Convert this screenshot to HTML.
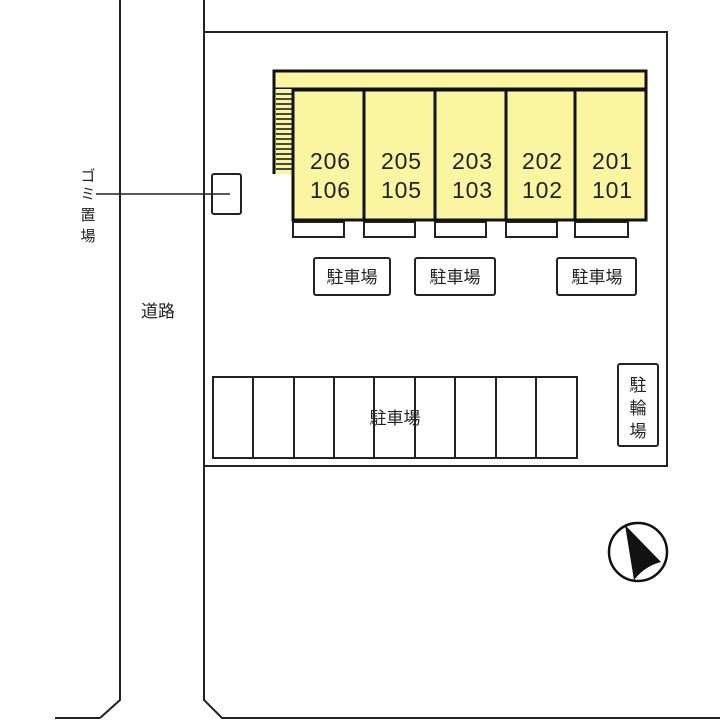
<!DOCTYPE html>
<html><head><meta charset="utf-8"><style>
html,body{margin:0;padding:0;background:#fff;}
svg text{font-family:"Liberation Sans","Noto Sans CJK JP",sans-serif;fill:#222;}
</style></head><body>
<svg width="720" height="720" viewBox="0 0 720 720" xmlns="http://www.w3.org/2000/svg">
<g fill="none" stroke="#222" stroke-width="2">
<polyline points="120,0 120,700 100,718"/>
<line x1="55" y1="718" x2="100" y2="718"/>
<polyline points="204,0 204,700 222,718 720,718"/>
<polyline points="204,32 667,32 667,466 204,466"/>
<rect x="213" y="377" width="364" height="81"/>
<path d="M253,377V458M294,377V458M334,377V458M374,377V458M415,377V458M455,377V458M496,377V458M536,377V458"/>
<rect x="618" y="364" width="40" height="82" rx="2"/>
<rect x="212" y="174" width="29" height="40" rx="2"/>
<line x1="96" y1="194" x2="230" y2="194" stroke-width="1.5"/>
<rect x="293" y="222" width="51" height="15"/>
<rect x="364" y="222" width="51" height="15"/>
<rect x="435" y="222" width="51" height="15"/>
<rect x="506" y="222" width="51" height="15"/>
<rect x="575" y="222" width="53" height="15"/>
<rect x="314" y="258" width="76" height="37" rx="2"/>
<rect x="415" y="258" width="80" height="37" rx="2"/>
<rect x="557" y="258" width="79" height="37" rx="2"/>
</g>
<rect x="274" y="71" width="372" height="18" fill="#f9f5a0" stroke="#111" stroke-width="3"/>
<rect x="274" y="89" width="19" height="85" fill="#f9f5a0"/>
<g stroke="#111" stroke-width="1.5">
<path d="M276,94H293M276,99H293M276,104H293M276,109H293M276,114H293M276,119H293M276,124H293M276,129H293M276,134H293M276,139H293M276,144H293M276,149H293M276,154H293M276,159H293M276,164H293M276,169H293"/>
</g>
<line x1="274" y1="71" x2="274" y2="174" stroke="#111" stroke-width="3"/>
<rect x="293" y="90" width="353" height="130" fill="#f9f5a0" stroke="#111" stroke-width="3"/>
<path d="M364,90V220M435,90V220M506,90V220M575,90V220" stroke="#111" stroke-width="3"/>
<g font-size="23" text-anchor="middle">
<text x="330" y="169" textLength="40" lengthAdjust="spacing">206</text><text x="330" y="198" textLength="40" lengthAdjust="spacing">106</text>
<text x="401" y="169" textLength="40" lengthAdjust="spacing">205</text><text x="401" y="198" textLength="40" lengthAdjust="spacing">105</text>
<text x="472" y="169" textLength="40" lengthAdjust="spacing">203</text><text x="472" y="198" textLength="40" lengthAdjust="spacing">103</text>
<text x="542" y="169" textLength="40" lengthAdjust="spacing">202</text><text x="542" y="198" textLength="40" lengthAdjust="spacing">102</text>
<text x="612" y="169" textLength="40" lengthAdjust="spacing">201</text><text x="612" y="198" textLength="40" lengthAdjust="spacing">101</text>
</g>
<g font-size="17" text-anchor="middle">
<text x="352" y="283">駐車場</text>
<text x="455" y="283">駐車場</text>
<text x="597" y="283">駐車場</text>
<text x="395" y="424">駐車場</text>
<text x="158" y="317">道路</text>
<text x="638" y="391">駐</text><text x="638" y="414">輪</text><text x="638" y="437">場</text>
<text x="88" y="181" font-size="15">ゴ</text><text x="88" y="199" font-size="15">ミ</text>
<text x="88" y="220" font-size="15">置</text><text x="88" y="241" font-size="15">場</text>
</g>
<circle cx="638" cy="552" r="29" fill="none" stroke="#111" stroke-width="2.5"/>
<path d="M625,525 L661,562 Q645,566 634,580 Z" fill="#111"/>
</svg>
</body></html>
